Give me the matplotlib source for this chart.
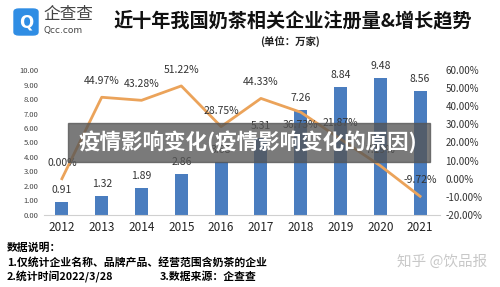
import matplotlib
matplotlib.use("Agg")
import matplotlib.pyplot as plt
from matplotlib.patches import FancyBboxPatch, Rectangle

plt.rcParams["font.family"] = ["Noto Sans CJK SC", "DejaVu Sans"]

years = ["2012", "2013", "2014", "2015", "2016", "2017", "2018", "2019", "2020", "2021"]
registrations = [0.91, 1.32, 1.89, 2.86, 3.68, 5.31, 7.26, 8.84, 9.48, 8.56]
growth = [0.00, 44.97, 43.28, 51.22, 28.75, 44.33, 36.73, 21.87, 7.19, -9.72]
left_ticks = [0, 1, 2, 3, 4, 5, 6, 7, 8, 9, 10]
right_ticks = [-20, -10, 0, 10, 20, 30, 40, 50, 60]

bar_color = "#4a7dbf"
line_color = "#eba35a"

fig = plt.figure(figsize=(5, 2.87), dpi=100)
ax = fig.add_axes([0.088, 0.251, 0.792, 0.505])
x = list(range(len(years)))

ax.bar(x, registrations, width=0.33, color=bar_color, zorder=2)
for xi, v in zip(x, registrations):
    ax.annotate(f"{v:.2f}", (xi, v), xytext=(0, 5), textcoords="offset points",
                ha="center", va="bottom", fontsize=7.5, color="#333333")

ax.set_xlim(-0.45, 9.5)
ax.set_ylim(0, 10)
ax.set_yticks(left_ticks)
ax.set_yticklabels([f"{t:.2f}" for t in left_ticks], fontsize=5.5, color="#444444")
ax.set_xticks(x)
ax.set_xticklabels(years, fontsize=8.5, color="#222222")
ax.tick_params(length=0, pad=4)
for s in ["top", "right", "left"]:
    ax.spines[s].set_visible(False)
ax.spines["bottom"].set_color("#d0d0d0")
ax.spines["bottom"].set_linewidth(0.8)

ax2 = ax.twinx()
ax2.plot(x, growth, color=line_color, linewidth=2, zorder=3)
ax2.set_ylim(-20, 60)
ax2.set_yticks(right_ticks)
ax2.set_yticklabels([f"{t:.2f}%" for t in right_ticks], fontsize=7, color="#333333")
ax2.tick_params(length=0, pad=4)
for s in ax2.spines.values():
    s.set_visible(False)

# label offsets (points): most sit above the marker, 2018 sits below
offsets = [(0, 8), (0, 8), (0, 8), (0, 8), (0, 8), (0, 8), (0, -13), (0, 8), (0, 8), (0, 8)]
for xi, v, off in zip(x, growth, offsets):
    ax2.annotate(f"{v:.2f}%", (xi, v), xytext=off, textcoords="offset points",
                 ha="center", va="bottom", fontsize=7.5, color="#333333")

# header
fig.patches.append(FancyBboxPatch((14 / 500, 1 - 35 / 287), 24 / 500, 26 / 287,
                                  boxstyle="round,pad=0,rounding_size=0.01",
                                  transform=fig.transFigure, color="#2f8de4"))
fig.text(26 / 500, 1 - 22 / 287, "Q", color="white", fontsize=12, fontweight="bold",
         ha="center", va="center", family="DejaVu Sans")
fig.text(43 / 500, 1 - 15 / 287, "企查查", fontsize=12, color="#444444", va="center")
fig.text(43 / 500, 1 - 31 / 287, "Qcc.com", fontsize=6.5, color="#444444", va="center",
         family="DejaVu Sans")
fig.text(293 / 500, 1 - 21 / 287, "近十年我国奶茶相关企业注册量&增长趋势", fontsize=13.8,
         fontweight="bold", ha="center", va="center", color="#111111")
fig.text(290 / 500, 1 - 42 / 287, "(单位：万家)", fontsize=7.5, fontweight="bold",
         ha="center", va="center", color="#222222")

# overlay banner
fig.patches.append(Rectangle((68 / 500, 1 - 162 / 287), 362 / 500, 39 / 287,
                             transform=fig.transFigure, color="#555555", alpha=0.78, zorder=5))
fig.text(248 / 500, 1 - 142 / 287, "疫情影响变化(疫情影响变化的原因)", fontsize=15.5,
         fontweight="bold", ha="center", va="center", color="white", zorder=6)

# notes
fig.text(7 / 500, 1 - 248 / 287, "数据说明：", fontsize=7.8, fontweight="bold", va="center")
fig.text(7 / 500, 1 - 262 / 287, "1.仅统计企业名称、品牌产品、经营范围含奶茶的企业", fontsize=7.8,
         fontweight="bold", va="center")
fig.text(7 / 500, 1 - 277 / 287, "2.统计时间2022/3/28", fontsize=7.8, fontweight="bold", va="center")
fig.text(160 / 500, 1 - 277 / 287, "3.数据来源：企查查", fontsize=7.8, fontweight="bold", va="center")
fig.text(487 / 500, 1 - 262 / 287, "知乎 @饮品报", fontsize=10.5, color="#c8c8c8",
         ha="right", va="center")

fig.savefig("out.png", dpi=100)
